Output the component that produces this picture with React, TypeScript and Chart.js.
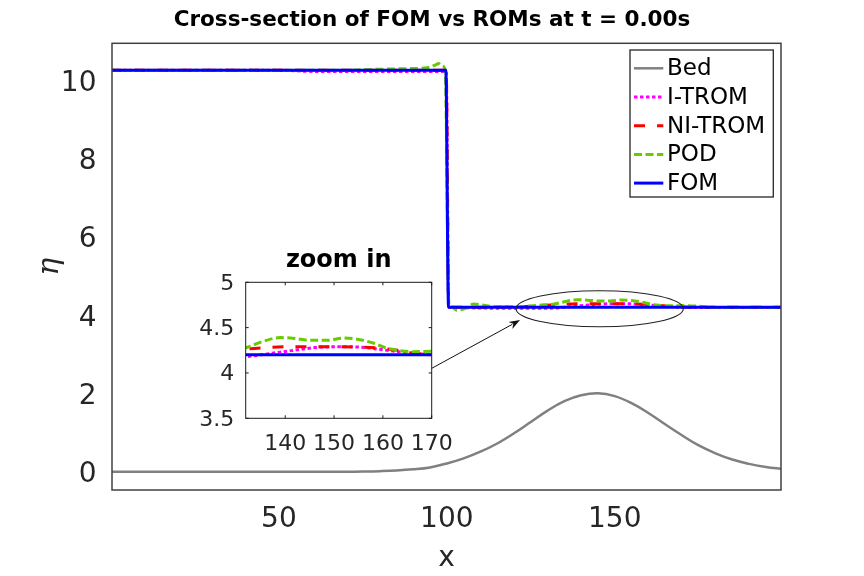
import React, { useEffect, useRef } from 'react';
import { Chart, registerables } from 'chart.js';

Chart.register(...registerables);

const SANS = '"DejaVu Sans", "Liberation Sans", sans-serif';
const SERIF = '"DejaVu Serif", "Liberation Serif", serif';
const TICK_COLOR = '#262626';

// ---------- text ----------
const TITLE = 'Cross-section of FOM vs ROMs at t = 0.00s';
const INSET_TITLE = 'zoom in';
const X_LABEL = 'x';
const Y_LABEL = 'η';

// ---------- ticks / ranges ----------
const X_TICKS = [50, 100, 150];
const Y_TICKS = [0, 2, 4, 6, 8, 10];
const INSET_X_TICKS = [140, 150, 160, 170];
const INSET_Y_TICKS = [3.5, 4, 4.5, 5];
const X_MIN = 0.3;
const X_MAX = 199.5;
const Y_MIN = -0.467;
const Y_MAX = 10.937;
const INSET_X_MIN = 131.9;
const INSET_X_MAX = 170;
const INSET_Y_MIN = 3.5;
const INSET_Y_MAX = 5;

// ---------- series data ----------
const BED_X = [0, 10, 20, 30, 40, 50, 60, 70, 75, 80, 85, 90, 95, 100, 105, 110, 115, 120, 125, 130, 135, 140, 145, 150, 155, 160, 165, 170, 175, 180, 185, 190, 195, 200];
const BED_Y = [0, 0, 0, 0, 0, 0, 0, 0, 0.005, 0.014, 0.03, 0.06, 0.11, 0.21, 0.34, 0.51, 0.72, 0.98, 1.27, 1.56, 1.8, 1.95, 2.0, 1.93, 1.75, 1.5, 1.21, 0.93, 0.67, 0.47, 0.31, 0.2, 0.12, 0.07];

const ITROM_X = [0, 50, 60, 99, 99.8, 100.6, 103, 110, 117, 125, 132, 135, 139, 142.5, 146, 151, 156.5, 160, 164, 167.5, 170, 180, 200];
const ITROM_Y = [10.25, 10.25, 10.22, 10.22, 10.22, 4.2, 4.19, 4.18, 4.17, 4.17, 4.18, 4.2, 4.23, 4.255, 4.28, 4.29, 4.28, 4.255, 4.23, 4.21, 4.2, 4.19, 4.19];

const NITROM_X = [0, 50, 99, 99.8, 100.6, 105, 115, 122, 128, 132, 136, 140, 145, 150, 155, 159, 163, 166, 169, 175, 200];
const NITROM_Y = [10.25, 10.25, 10.25, 10.25, 4.2, 4.2, 4.2, 4.21, 4.24, 4.265, 4.28, 4.29, 4.29, 4.29, 4.285, 4.275, 4.25, 4.22, 4.21, 4.2, 4.2];

const POD_X = [0, 20, 40, 60, 70, 78, 88, 94, 96.5, 97.5, 98.5, 99.5, 100.6, 101.5, 103, 105.5, 108, 111, 115, 120, 125, 129, 132, 135, 139, 142, 145, 148.5, 152, 155, 158, 160.5, 163, 166, 170, 174, 178, 185, 200];
const POD_Y = [10.25, 10.25, 10.25, 10.25, 10.25, 10.27, 10.29, 10.31, 10.38, 10.42, 10.36, 10.27, 4.3, 4.2, 4.12, 4.17, 4.28, 4.25, 4.21, 4.21, 4.23, 4.26, 4.28, 4.34, 4.39, 4.38, 4.36, 4.36, 4.385, 4.37, 4.33, 4.28, 4.25, 4.235, 4.24, 4.23, 4.2, 4.19, 4.19];

const FOM_X = [0, 99.7, 100.5, 200];
const FOM_Y = [10.25, 10.25, 4.2, 4.2];

// ---------- annotation (ellipse + arrow), in data units ----------
const ELLIPSE_CX = 145.5;
const ELLIPSE_CY = 4.16;
const ELLIPSE_RX = 24.9;
const ELLIPSE_RY = 0.46;
const ARROW_FROM = [95.3, 2.63];
const ARROW_TO = [121.8, 3.87];

type Series = { label: string; xs: number[]; ys: number[]; color: string; width: number; dash: number[]; order: number; smooth: boolean };

const SERIES: Series[] = [
  { label: 'Bed', xs: BED_X, ys: BED_Y, color: '#808080', width: 2.5, dash: [], order: 4, smooth: true },
  { label: 'I-TROM', xs: ITROM_X, ys: ITROM_Y, color: '#FF00FF', width: 3, dash: [3.5, 2.5], order: 3, smooth: false },
  { label: 'NI-TROM', xs: NITROM_X, ys: NITROM_Y, color: '#FF0000', width: 3, dash: [11, 12], order: 2, smooth: false },
  { label: 'POD', xs: POD_X, ys: POD_Y, color: '#66CC00', width: 3, dash: [8, 3.5], order: 1, smooth: false },
  { label: 'FOM', xs: FOM_X, ys: FOM_Y, color: '#0000FF', width: 3, dash: [], order: 0, smooth: false },
];

function makeDatasets() {
  return SERIES.map((s) => ({
    label: s.label,
    data: s.xs.map((x, i) => ({ x, y: s.ys[i] })),
    borderColor: s.color,
    backgroundColor: s.color,
    borderWidth: s.width,
    borderDash: s.dash,
    pointRadius: 0,
    pointHoverRadius: 0,
    fill: false,
    tension: s.smooth ? 0.4 : 0,
    cubicInterpolationMode: s.smooth ? ('default' as const) : ('monotone' as const),
    order: s.order,
    yAxisID: 'y',
  }));
}

const mainDecor = {
  id: 'mainDecor',
  afterDatasetsDraw(chart: any) {
    const { ctx, chartArea: a, scales } = chart;
    const xs = scales.x;
    const ys = scales.y;
    ctx.save();
    ctx.strokeStyle = '#404040';
    ctx.lineWidth = 1.5;
    ctx.strokeRect(a.left, a.top, a.right - a.left, a.bottom - a.top);
    const cx = xs.getPixelForValue(ELLIPSE_CX);
    const cy = ys.getPixelForValue(ELLIPSE_CY);
    const rx = Math.abs(xs.getPixelForValue(ELLIPSE_CX + ELLIPSE_RX) - cx);
    const ry = Math.abs(ys.getPixelForValue(ELLIPSE_CY + ELLIPSE_RY) - cy);
    ctx.strokeStyle = '#222';
    ctx.lineWidth = 1.1;
    ctx.beginPath();
    ctx.ellipse(cx, cy, rx, ry, 0, 0, Math.PI * 2);
    ctx.stroke();
    const x1 = xs.getPixelForValue(ARROW_FROM[0]);
    const y1 = ys.getPixelForValue(ARROW_FROM[1]);
    const x2 = xs.getPixelForValue(ARROW_TO[0]);
    const y2 = ys.getPixelForValue(ARROW_TO[1]);
    const ang = Math.atan2(y2 - y1, x2 - x1);
    const hl = 11;
    const hw = 4;
    ctx.strokeStyle = '#111';
    ctx.lineWidth = 1;
    ctx.beginPath();
    ctx.moveTo(x1, y1);
    ctx.lineTo(x2 - Math.cos(ang) * hl * 0.8, y2 - Math.sin(ang) * hl * 0.8);
    ctx.stroke();
    ctx.fillStyle = '#111';
    ctx.beginPath();
    ctx.moveTo(x2, y2);
    ctx.lineTo(x2 - Math.cos(ang) * hl - Math.sin(ang) * hw, y2 - Math.sin(ang) * hl + Math.cos(ang) * hw);
    ctx.lineTo(x2 - Math.cos(ang) * hl * 0.7, y2 - Math.sin(ang) * hl * 0.7);
    ctx.lineTo(x2 - Math.cos(ang) * hl + Math.sin(ang) * hw, y2 - Math.sin(ang) * hl - Math.cos(ang) * hw);
    ctx.closePath();
    ctx.fill();
    ctx.restore();
  },
  afterDraw(chart: any) {
    const { ctx, chartArea: a } = chart;
    const datasets = chart.data.datasets;
    const right = a.right - 7.7;
    const left = right - 143.3;
    const top = a.top + 6.7;
    const rowH = 28.7;
    const h = 147;
    ctx.save();
    ctx.fillStyle = '#fff';
    ctx.fillRect(left, top, right - left, h);
    ctx.strokeStyle = '#262626';
    ctx.lineWidth = 1.3;
    ctx.strokeRect(left, top, right - left, h);
    datasets.forEach((ds: any, i: number) => {
      const y = top + 18.3 + i * rowH;
      ctx.setLineDash(ds.borderDash || []);
      ctx.strokeStyle = ds.borderColor;
      ctx.lineWidth = ds.borderWidth;
      ctx.beginPath();
      ctx.moveTo(left + 4, y);
      ctx.lineTo(left + 33.3, y);
      ctx.stroke();
      ctx.setLineDash([]);
      ctx.fillStyle = '#000';
      ctx.font = `23px ${SANS}`;
      ctx.textBaseline = 'middle';
      ctx.textAlign = 'left';
      ctx.fillText(ds.label, left + 37, y + 1);
    });
    ctx.restore();
  },
};

const insetDecor = {
  id: 'insetDecor',
  beforeDraw(chart: any) {
    const { ctx, chartArea: a } = chart;
    ctx.save();
    ctx.fillStyle = '#fff';
    ctx.fillRect(a.left, a.top, a.right - a.left, a.bottom - a.top);
    ctx.restore();
  },
  afterDatasetsDraw(chart: any) {
    const { ctx, chartArea: a, scales } = chart;
    ctx.save();
    ctx.strokeStyle = '#1a1a1a';
    ctx.lineWidth = 1;
    ctx.strokeRect(a.left, a.top, a.right - a.left, a.bottom - a.top);
    const tl = 3;
    ctx.beginPath();
    INSET_X_TICKS.forEach((v) => {
      const px = scales.x.getPixelForValue(v);
      ctx.moveTo(px, a.bottom);
      ctx.lineTo(px, a.bottom - tl);
      ctx.moveTo(px, a.top);
      ctx.lineTo(px, a.top + tl);
    });
    INSET_Y_TICKS.forEach((v) => {
      const py = scales.y.getPixelForValue(v);
      ctx.moveTo(a.left, py);
      ctx.lineTo(a.left + tl, py);
      ctx.moveTo(a.right, py);
      ctx.lineTo(a.right - tl, py);
    });
    ctx.stroke();
    ctx.restore();
  },
};

export default function App() {
  const mainRef = useRef<HTMLCanvasElement | null>(null);
  const insetRef = useRef<HTMLCanvasElement | null>(null);

  useEffect(() => {
    const main = new Chart(mainRef.current as HTMLCanvasElement, {
      type: 'line',
      data: { datasets: makeDatasets() as any },
      options: {
        responsive: false,
        animation: false,
        events: [],
        layout: { padding: { left: 0, right: 0, top: 0, bottom: 0 } },
        plugins: {
          legend: { display: false },
          tooltip: { enabled: false },
          title: {
            display: true,
            text: TITLE,
            fullSize: true,
            color: '#000',
            font: { family: SANS, size: 21.5, weight: 'bold', lineHeight: 1.2 },
            padding: { top: 8, bottom: 9.5 },
          },
        },
        scales: {
          x: {
            type: 'linear',
            min: X_MIN,
            max: X_MAX,
            afterFit: (s: any) => { s.height = 86; },
            afterBuildTicks: (s: any) => { s.ticks = X_TICKS.map((v) => ({ value: v })); },
            grid: { display: false },
            border: { display: false },
            ticks: { color: TICK_COLOR, font: { family: SANS, size: 28 }, padding: 4.7, maxRotation: 0, autoSkip: false, callback: (v: any) => String(v) },
            title: { display: true, text: X_LABEL, color: TICK_COLOR, font: { family: SANS, size: 28 }, padding: { top: 1, bottom: 0 } },
          },
          y: {
            type: 'linear',
            position: 'left',
            min: Y_MIN,
            max: Y_MAX,
            afterFit: (s: any) => { s.width = 112; },
            afterBuildTicks: (s: any) => { s.ticks = Y_TICKS.map((v) => ({ value: v })); },
            grid: { display: false },
            border: { display: false },
            ticks: { color: TICK_COLOR, font: { family: SANS, size: 28 }, padding: 7.5, labelOffset: 3.5, autoSkip: false, callback: (v: any) => String(v) },
            title: { display: true, text: Y_LABEL, color: TICK_COLOR, font: { family: SERIF, size: 30, style: 'italic' }, padding: { top: 32, bottom: 0 } },
          },
          yRight: {
            type: 'linear',
            position: 'right',
            display: true,
            afterFit: (s: any) => { s.width = 83; },
            grid: { display: false },
            border: { display: false },
            ticks: { display: false },
          },
        },
      } as any,
      plugins: [mainDecor],
    });

    const inset = new Chart(insetRef.current as HTMLCanvasElement, {
      type: 'line',
      data: { datasets: makeDatasets() as any },
      options: {
        responsive: false,
        animation: false,
        events: [],
        layout: { padding: { left: 0, right: 28.3, top: 0, bottom: 0 } },
        plugins: {
          legend: { display: false },
          tooltip: { enabled: false },
          title: {
            display: true,
            text: INSET_TITLE,
            fullSize: false,
            color: '#000',
            font: { family: SANS, size: 24, weight: 'bold', lineHeight: 1.2 },
            padding: { top: 15.9, bottom: 7.6 },
          },
        },
        scales: {
          x: {
            type: 'linear',
            min: INSET_X_MIN,
            max: INSET_X_MAX,
            afterFit: (s: any) => { s.height = 41.7; },
            afterBuildTicks: (s: any) => { s.ticks = INSET_X_TICKS.map((v) => ({ value: v })); },
            grid: { display: false },
            border: { display: false },
            ticks: { color: TICK_COLOR, font: { family: SANS, size: 22 }, padding: 5, maxRotation: 0, autoSkip: false, callback: (v: any) => String(v) },
          },
          y: {
            type: 'linear',
            min: INSET_Y_MIN,
            max: INSET_Y_MAX,
            afterFit: (s: any) => { s.width = 95.7; },
            afterBuildTicks: (s: any) => { s.ticks = INSET_Y_TICKS.map((v) => ({ value: v })); },
            grid: { display: false },
            border: { display: false },
            ticks: { color: TICK_COLOR, font: { family: SANS, size: 22 }, padding: 3.5, labelOffset: 1.5, autoSkip: false, callback: (v: any) => String(v) },
          },
        },
      } as any,
      plugins: [insetDecor],
    });

    return () => {
      main.destroy();
      inset.destroy();
    };
  }, []);

  return (
    <div style={{ position: 'absolute', left: 0, top: 0, width: 864, height: 576, background: '#fff' }}>
      <canvas ref={mainRef} width={864} height={576} style={{ position: 'absolute', left: 0, top: 0, width: 864, height: 576 }} />
      <canvas ref={insetRef} width={310} height={230} style={{ position: 'absolute', left: 150, top: 230, width: 310, height: 230 }} />
    </div>
  );
}
